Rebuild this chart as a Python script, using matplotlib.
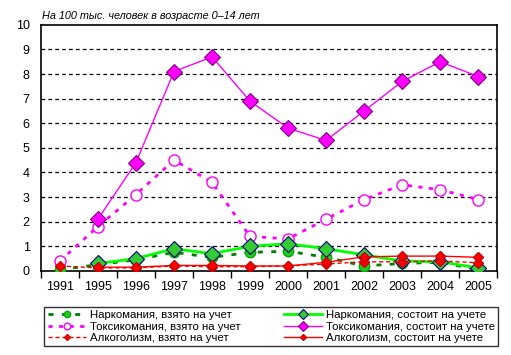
import numpy as np
import matplotlib.pyplot as plt

plt.rcParams['font.family'] = ['Liberation Sans', 'DejaVu Sans']

years = ['1991', '1995', '1996', '1997', '1998', '1999', '2000', '2001', '2002', '2003', '2004', '2005']

# Наркомания
narco_new = [0.05, 0.25, 0.45, 0.75, 0.55, 0.75, 0.8, 0.55, 0.2, 0.3, 0.35, 0.05]
narco_reg = [None, 0.3, 0.5, 0.9, 0.7, 1.0, 1.1, 0.9, 0.65, 0.4, 0.37, 0.12]
# Токсикомания
toxi_new = [0.4, 1.8, 3.1, 4.5, 3.6, 1.4, 1.3, 2.1, 2.9, 3.5, 3.3, 2.9]
toxi_reg = [None, 2.1, 4.4, 8.1, 8.7, 6.9, 5.8, 5.3, 6.5, 7.7, 8.5, 7.9]
# Алкоголизм
alco_new = [0.2, 0.12, 0.12, 0.2, 0.17, 0.17, 0.2, 0.28, 0.37, 0.37, 0.4, 0.33]
alco_reg = [None, 0.15, 0.15, 0.22, 0.22, 0.2, 0.2, 0.35, 0.57, 0.6, 0.6, 0.55]

def arr(v):
    return np.array([np.nan if x is None else x for x in v], dtype=float)

x = np.arange(len(years))

fig = plt.figure(figsize=(5.11, 3.55), dpi=100)
ax = fig.add_axes([0.080, 0.237, 0.893, 0.693])

for yv in range(1, 10):
    ax.axhline(yv, color='black', lw=0.9, ls=(0, (3, 2.5)), zorder=0)

l1, = ax.plot(x, arr(narco_new), color='#008000', lw=2, ls=(0, (1.8, 3)),
              marker='o', ms=7.5, mfc='#22cc22', mec='#00aa00', zorder=3)
l2, = ax.plot(x, arr(toxi_new), color='#ff00ff', lw=2, ls=(0, (1.5, 2.3)),
              marker='o', ms=8, mfc='white', mec='#ff00ff', mew=1, zorder=3)
l3, = ax.plot(x, arr(alco_new), color='#ff0000', lw=1, ls=(0, (3, 2)),
              marker='D', ms=5, mfc='#ff0000', mec='#cc0000', zorder=4)
l4, = ax.plot(x, arr(narco_reg), color='#00ff00', lw=2,
              marker='D', ms=8, mfc='#33cc33', mec='#000080', mew=0.8, zorder=3)
l5, = ax.plot(x, arr(toxi_reg), color='#ff00ff', lw=1,
              marker='D', ms=8, mfc='#ff00ff', mec='#800080', mew=0.8, zorder=3)
l6, = ax.plot(x, arr(alco_reg), color='#ff0000', lw=1,
              marker='D', ms=5, mfc='#ff0000', mec='#cc0000', zorder=4)

ax.set_xlim(-0.5, len(years) - 0.5)
ax.set_ylim(0, 10)
ax.set_yticks(range(0, 11))
ax.set_xticks(np.arange(-0.5, len(years), 1))
ax.set_xticklabels([])
ax.set_xticks(x, minor=True)
ax.set_xticklabels(years, minor=True, fontsize=9)
ax.tick_params(axis='x', which='major', direction='out', length=5, width=1)
ax.tick_params(axis='x', which='minor', length=0, pad=7)
ax.tick_params(axis='y', length=0, labelsize=9, pad=8)
for s in ax.spines.values():
    s.set_linewidth(1.2)

fig.text(0.082, 0.955, 'На 100 тыс. человек в возрасте 0–14 лет',
         fontsize=7.8, style='italic', va='center')

leg = fig.legend([l1, l2, l3, l4, l5, l6],
                 ['Наркомания, взято на учет', 'Токсикомания, взято на учет',
                  'Алкоголизм, взято на учет', 'Наркомания, состоит на учете',
                  'Токсикомания, состоит на учете', 'Алкоголизм, состоит на учете'],
                 ncol=2, loc='center', bbox_to_anchor=(0.531, 0.080),
                 fontsize=8.2, frameon=True, fancybox=False, edgecolor='black',
                 handlelength=3.4, handletextpad=0.3, columnspacing=3.8,
                 labelspacing=0.12, borderpad=0.3, markerscale=0.6)
leg.get_frame().set_linewidth(1)

fig.savefig('out.png', dpi=100)
